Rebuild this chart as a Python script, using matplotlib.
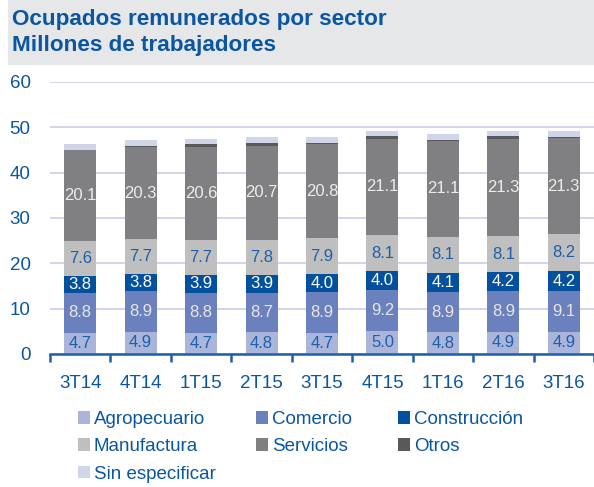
import matplotlib
matplotlib.use("Agg")
import matplotlib.pyplot as plt
from matplotlib.patches import Rectangle
import numpy as np

plt.rcParams['font.family'] = ['Liberation Sans', 'DejaVu Sans']

categories = ["3T14", "4T14", "1T15", "2T15", "3T15", "4T15", "1T16", "2T16", "3T16"]
agropecuario = [4.7, 4.9, 4.7, 4.8, 4.7, 5.0, 4.8, 4.9, 4.9]
comercio = [8.8, 8.9, 8.8, 8.7, 8.9, 9.2, 8.9, 8.9, 9.1]
construccion = [3.8, 3.8, 3.9, 3.9, 4.0, 4.0, 4.1, 4.2, 4.2]
manufactura = [7.6, 7.7, 7.7, 7.8, 7.9, 8.1, 8.1, 8.1, 8.2]
servicios = [20.1, 20.3, 20.6, 20.7, 20.8, 21.1, 21.1, 21.3, 21.3]
otros = [0.1, 0.2, 0.6, 0.6, 0.2, 0.6, 0.2, 0.6, 0.2]
sin_especificar = [1.3, 1.3, 1.2, 1.3, 1.4, 1.3, 1.4, 1.3, 1.4]

series = [
    ("Agropecuario", agropecuario, "#a9b5db", "#1f5fa8", True),
    ("Comercio", comercio, "#6b81bd", "#e6e6e6", True),
    ("Construcción", construccion, "#03509e", "#ffffff", True),
    ("Manufactura", manufactura, "#bfbfbf", "#1f5fa8", True),
    ("Servicios", servicios, "#808083", "#ececec", True),
    ("Otros", otros, "#58595b", None, False),
    ("Sin especificar", sin_especificar, "#d0d5ea", None, False),
]

blue = "#0b56a0"

fig = plt.figure(figsize=(5.94, 4.87), dpi=100)
# title band
fig.patches.append(Rectangle((8/594, 1-65/487), 1-8/594, 65/487, transform=fig.transFigure,
                             facecolor="#e6e7e9", edgecolor="none", zorder=0))
fig.text(12/594, 1-19/487, "Ocupados remunerados por sector", fontsize=16.2, fontweight="bold",
         color=blue, va="center", ha="left")
fig.text(12/594, 1-46/487, "Millones de trabajadores", fontsize=16.2, fontweight="bold",
         color=blue, va="center", ha="left")

ax = fig.add_axes([50/594, 1-354/487, 1-50/594, (354-82)/487])
x = np.arange(len(categories))
bottom = np.zeros(len(categories))
handles = {}
for name, vals, col, tcol, lab in series:
    vals = np.array(vals)
    b = ax.bar(x, vals, width=0.53, bottom=bottom, color=col, label=name, zorder=2)
    handles[name] = b
    if lab:
        for xi, v, bt in zip(x, vals, bottom):
            ax.text(xi, bt + v/2, f"{v:.1f}", ha="center", va="center", color=tcol,
                    fontsize=12, zorder=3)
    bottom += vals

ax.set_ylim(0, 60)
ax.set_xlim(-0.5, len(categories)-0.5)
ax.set_yticks(range(0, 61, 10))
ax.yaxis.grid(True, color="#c9cde9", linewidth=1.2)
ax.set_axisbelow(True)
for s in ["left", "right", "top"]:
    ax.spines[s].set_visible(False)
ax.spines["bottom"].set_color("#1f5fa8")
ax.spines["bottom"].set_linewidth(1.8)
ax.spines["bottom"].set_zorder(4)
ax.tick_params(axis="y", length=0, labelsize=13.5, labelcolor=blue, pad=14)
ax.set_xticks(x)
ax.set_xticklabels(categories)
ax.set_xticks(np.arange(-0.5, len(categories)), minor=True)
ax.tick_params(axis="x", which="major", length=0, labelsize=13.5, labelcolor=blue, pad=15)
ax.tick_params(axis="x", which="minor", length=6, width=1.8, color="#1f5fa8", direction="out")

legend_cols = [
    (["Agropecuario", "Manufactura", "Sin especificar"], 78),
    (["Comercio", "Servicios"], 256),
    (["Construcción", "Otros"], 398),
]
for names, xpos in legend_cols:
    fig.legend(handles=[handles[n] for n in names], labels=names, loc="upper left",
               bbox_to_anchor=(xpos/594, 1-411/487), ncol=1, frameon=False,
               fontsize=13.5, labelcolor=blue,
               handlelength=0.65, handleheight=0.65, handletextpad=0.2,
               labelspacing=0.55, borderaxespad=0, borderpad=0)

fig.savefig("out.png", dpi=100)
